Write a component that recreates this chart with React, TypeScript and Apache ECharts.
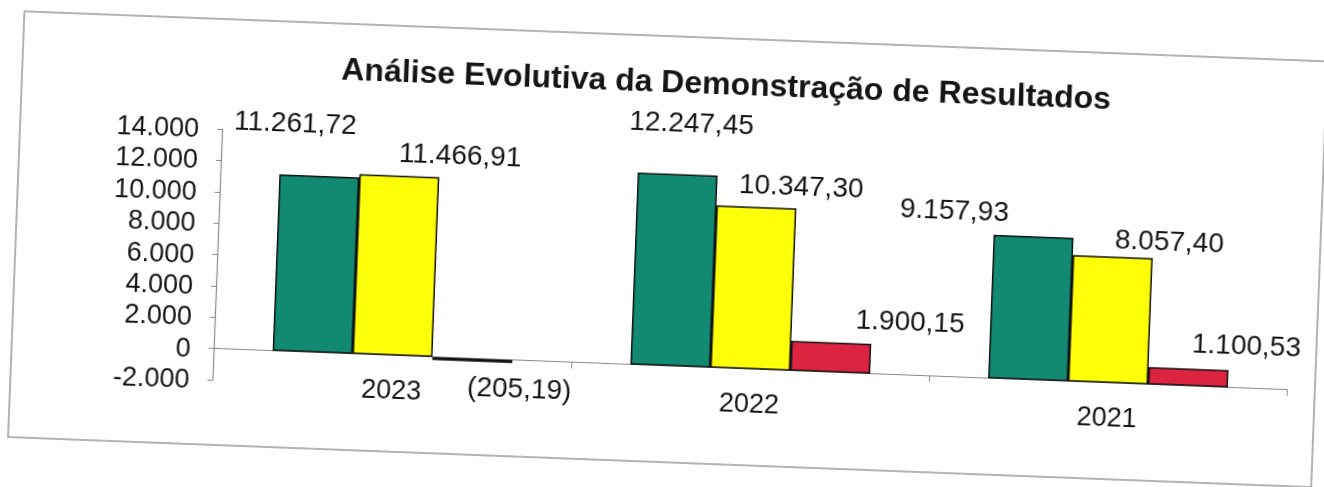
import React, { useEffect, useRef } from "react";
import * as echarts from "echarts";

const titleText = "Análise Evolutiva da Demonstração de Resultados";
const categories = ["2023", "2022", "2021"];
const greenValues = [11261.72, 12247.45, 9157.93];
const yellowValues = [11466.91, 10347.3, 8057.4];
const redValues = [-205.19, 1900.15, 1100.53];
const yMin = -2000;
const yMax = 14000;
const yStep = 2000;

// label placement (layout only, relative to each bar's centre)
const greenLabelOffsets = [[-26, -141], [12, -148], [-80, -95]];
const yellowLabelOffsets = [[60, -113], [44, -104], [56, -81]];
const redLabelOffsets = [[48, 26], [78, -39], [57, -34]];

const FONT = "'Liberation Sans', Arial, Helvetica, sans-serif";

function fmt(v: number, dec: number): string {
  const s = Math.abs(v).toFixed(dec);
  const [i, d] = s.split(".");
  const ii = i.replace(/\B(?=(\d{3})+(?!\d))/g, ".");
  const r = d ? ii + "," + d : ii;
  if (v < 0) return dec ? "(" + r + ")" : "-" + r;
  return r;
}

function makeSeries(name: string, values: number[], color: string, offsets: number[][]) {
  return {
    name,
    type: "bar",
    barWidth: 80,
    barGap: "0%",
    itemStyle: { color, borderColor: "#111", borderWidth: 1.5 },
    label: {
      show: true,
      position: "inside",
      color: "#151515",
      fontFamily: FONT,
      fontSize: 28,
      formatter: (p: any) => fmt(p.value, 2),
    },
    data: values.map((v, i) => ({ value: v, label: { offset: offsets[i] } })),
  };
}

export default function App() {
  const ref = useRef<HTMLDivElement>(null);
  useEffect(() => {
    if (!ref.current) return;
    const chart = echarts.init(ref.current, null, { renderer: "svg" });
    chart.setOption({
      animation: false,
      backgroundColor: "#ffffff",
      title: {
        text: titleText,
        left: 330,
        top: 60,
        textStyle: { fontFamily: FONT, fontSize: 32, fontWeight: "bold", color: "#151515" },
      },
      graphic: [
        {
          type: "rect",
          shape: { x: 16, y: 36, width: 1304, height: 426 },
          style: { fill: "none", stroke: "#9a9a9a", lineWidth: 1.5 },
          silent: true,
        },
      ],
      grid: { left: 218, right: 32, top: 146, bottom: 90 },
      xAxis: {
        type: "category",
        data: categories,
        axisLine: { onZero: true, lineStyle: { color: "#8a8a8a", width: 1.2 } },
        axisTick: { show: true, length: 6, lineStyle: { color: "#8a8a8a" } },
        axisLabel: { color: "#151515", fontFamily: FONT, fontSize: 27, margin: -11 },
      },
      yAxis: {
        type: "value",
        min: yMin,
        max: yMax,
        interval: yStep,
        splitLine: { show: false },
        axisLine: { show: true, lineStyle: { color: "#8a8a8a", width: 1.2 } },
        axisTick: { show: true, length: 5, lineStyle: { color: "#8a8a8a" } },
        axisLabel: {
          color: "#151515",
          fontFamily: FONT,
          fontSize: 27,
          margin: 23,
          formatter: (v: number) => fmt(v, 0),
        },
      },
      series: [
        makeSeries("Série 1", greenValues, "#128a72", greenLabelOffsets),
        makeSeries("Série 2", yellowValues, "#ffff0a", yellowLabelOffsets),
        makeSeries("Série 3", redValues, "#dc2440", redLabelOffsets),
      ],
    });
    return () => chart.dispose();
  }, []);
  return (
    <div
      style={{
        position: "fixed",
        left: 0,
        top: 0,
        width: 1324,
        height: 487,
        transform: "rotate(2.2deg)",
        transformOrigin: "50% 50%",
      }}
    >
      <div ref={ref} style={{ width: 1324, height: 487 }} />
    </div>
  );
}
